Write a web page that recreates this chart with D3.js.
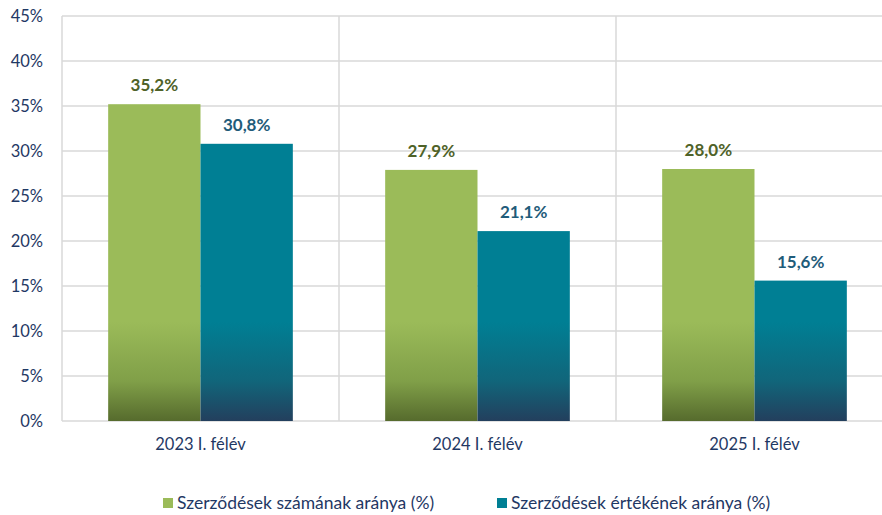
<!DOCTYPE html>
<html><head><meta charset="utf-8">
<script src="https://cdn.jsdelivr.net/npm/d3@7"></script>
<style>body{margin:0;background:#fff;}svg{display:block;font-family:Lato,"Open Sans",sans-serif;}</style>
</head><body><svg id="c" width="882" height="515"></svg>
<script>
const categories = ["2023 I. félév", "2024 I. félév", "2025 I. félév"];
const seriesNames = ["Szerződések számának aránya (%)", "Szerződések értékének aránya (%)"];
const countShare = [35.2, 27.9, 28.0];
const valueShare = [30.8, 21.1, 15.6];
const yTicks = [0, 5, 10, 15, 20, 25, 30, 35, 40, 45];

const svg = d3.select("#c");
const m = {l: 62, t: 16, r: 893, b: 421};
const x = d3.scaleBand().domain(categories).range([m.l, m.r]).paddingInner(0).paddingOuter(0);
const x1 = d3.scaleBand().domain([0, 1]).range([0, x.bandwidth()]).paddingOuter(0.5).paddingInner(0);
const y = d3.scaleLinear().domain([0, 45]).range([m.b, m.t]);

const defs = svg.append("defs");
function grad(id, top, mid, bot) {
  const g = defs.append("linearGradient").attr("id", id).attr("gradientUnits", "userSpaceOnUse")
    .attr("x1", 0).attr("x2", 0).attr("y1", y(11)).attr("y2", y(0));
  g.append("stop").attr("offset", 0).attr("stop-color", top);
  g.append("stop").attr("offset", 0.6).attr("stop-color", mid);
  g.append("stop").attr("offset", 1).attr("stop-color", bot);
}
grad("g0", "#9BBB59", "#809F48", "#566B2D");
grad("g1", "#007F94", "#11657A", "#233F5D");

// grid
const grid = svg.append("g").attr("stroke", "#D9D9D9").attr("stroke-width", 1.5);
grid.selectAll("line.h").data(yTicks).join("line")
  .attr("x1", m.l).attr("x2", m.r).attr("y1", d => y(d)).attr("y2", d => y(d));
const vx = categories.map(c => x(c)).concat([x(categories[2]) + x.bandwidth()]);
grid.selectAll("line.v").data(vx).join("line")
  .attr("x1", d => d).attr("x2", d => d).attr("y1", m.t).attr("y2", m.b);

// y axis labels
const yAxis = svg.append("g").attr("transform", `translate(${m.l},0)`)
  .call(d3.axisLeft(y).tickValues(yTicks).tickFormat(d => d + "%").tickSize(0).tickPadding(19));
yAxis.select(".domain").remove();
yAxis.selectAll("text").attr("font-size", 16.5).attr("fill", "#1F3864").attr("font-family", "Lato,sans-serif");

// x axis labels
const xAxis = svg.append("g").attr("transform", `translate(0,${m.b})`)
  .call(d3.axisBottom(x).tickSize(0).tickPadding(17));
xAxis.select(".domain").remove();
xAxis.selectAll("text").attr("font-size", 16.5).attr("fill", "#1F3864").attr("font-family", "Lato,sans-serif");

const series = [countShare, valueShare];
const labelColors = ["#4F6228", "#1F5C7A"];
series.forEach((vals, si) => {
  const g = svg.append("g");
  g.selectAll("rect").data(vals).join("rect")
    .attr("x", (d, i) => x(categories[i]) + x1(si))
    .attr("width", x1.bandwidth())
    .attr("y", d => y(d)).attr("height", d => y(0) - y(d))
    .attr("fill", `url(#g${si})`);
  g.selectAll("text").data(vals).join("text")
    .attr("x", (d, i) => x(categories[i]) + x1(si) + x1.bandwidth() / 2)
    .attr("y", d => y(d) - 13)
    .attr("text-anchor", "middle").attr("font-size", 17).attr("font-weight", "bold")
    .attr("fill", labelColors[si])
    .text(d => d.toFixed(1).replace(".", ",") + "%");
});

// legend
const legendX = [163, 497];
const legendColors = ["#9BBB59", "#007F94"];
const lg = svg.append("g");
seriesNames.forEach((n, i) => {
  lg.append("rect").attr("x", legendX[i]).attr("y", 498).attr("width", 10).attr("height", 10).attr("fill", legendColors[i]);
  lg.append("text").attr("x", legendX[i] + 14).attr("y", 509).attr("font-size", 17.5).attr("fill", "#1F3864").text(n);
});
</script></body></html>
